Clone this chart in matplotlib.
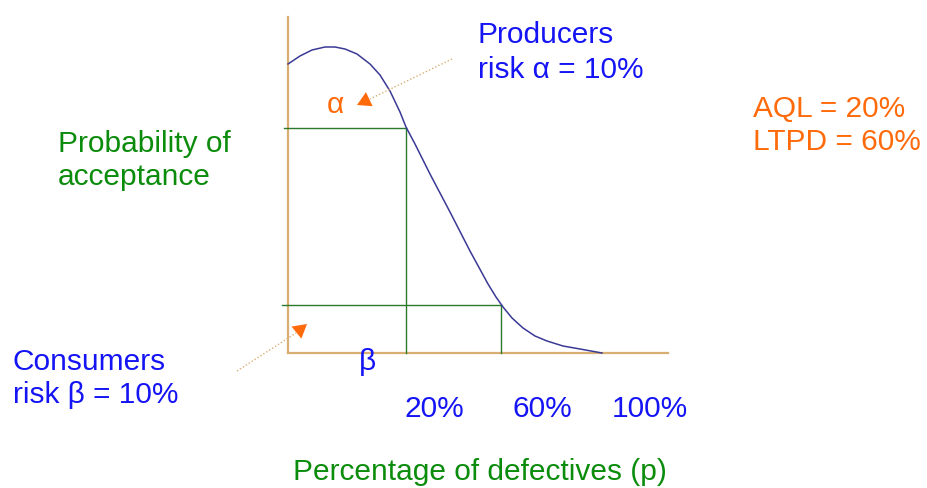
import matplotlib
matplotlib.use("Agg")
from matplotlib import pyplot as plt

plt.rcParams['font.family'] = ['Liberation Sans', 'DejaVu Sans']

# OC curve (pixel units of the 928x489 canvas)
curve_x = [288, 300, 312, 325, 335, 345, 357, 370, 380, 390, 400, 406, 415,
           430, 450, 470, 488, 496, 503, 512, 523, 535, 547, 563, 580, 602]
curve_y = [65, 57, 51, 48, 48, 50, 55, 65, 76, 92, 113, 128, 145,
           175, 213, 252, 285, 298, 308, 319, 329, 337, 342, 347, 350, 354]

origin = (288, 354)
x_end = 668
y_top = 18
aql_x, alpha_y = 406, 129     # producers point
ltpd_x, beta_y = 501, 306     # consumers point

tick_labels = ['20%', '60%', '100%']
tick_x = [405, 512, 612]

blue = '#1414f5'
green = '#0c8c0c'
orange = '#ff6a0a'
tan = '#d9ae73'

fig = plt.figure(figsize=(9.28, 4.89), dpi=100)
ax = fig.add_axes([0, 0, 1, 1])
ax.set_xlim(0, 928)
ax.set_ylim(489, 0)
ax.axis('off')

# axes
ax.plot([origin[0], origin[0]], [y_top, origin[1]], color=tan, lw=1.6)
ax.plot([origin[0], x_end], [origin[1], origin[1]], color=tan, lw=1.6)

# guide lines
ax.plot([origin[0] - 4, aql_x], [alpha_y, alpha_y], color='#2a7a2a', lw=1)
ax.plot([aql_x, aql_x], [alpha_y, origin[1]], color='#2a7a2a', lw=1)
ax.plot([origin[0] - 6, ltpd_x], [beta_y, beta_y], color='#2a7a2a', lw=1)
ax.plot([ltpd_x, ltpd_x], [beta_y, origin[1]], color='#2a7a2a', lw=1)

# curve
ax.plot(curve_x, curve_y, color='#3a3a96', lw=1.1)

# pointer arrows: dotted tan shaft, orange head
head = dict(arrowstyle='-|>,head_length=0.7,head_width=0.4', mutation_scale=14,
            color=orange, lw=0, shrinkA=0, shrinkB=0)
ax.plot([452, 370], [60, 100], color=tan, lw=1, ls=(0, (1, 1.5)))
ax.annotate('', xy=(357, 106), xytext=(376, 97), arrowprops=head)
ax.plot([237, 296], [372, 334], color=tan, lw=1, ls=(0, (1, 1.5)))
ax.annotate('', xy=(307, 325), xytext=(291, 338), arrowprops=head)

fs = 21.5
def txt(x, y, s, c, **kw):
    ax.text(x, y, s, color=c, fontsize=fs, va='baseline', **kw)

txt(478, 43, 'Producers', blue)
txt(478, 78, 'risk α = 10%', blue)
txt(753, 117, 'AQL = 20%', orange)
txt(753, 150, 'LTPD = 60%', orange)
txt(58, 152, 'Probability of', green)
txt(58, 185, 'acceptance', green)
txt(13, 370, 'Consumers', blue)
txt(13, 403, 'risk β = 10%', blue)
txt(327, 113, 'α', orange)
txt(359, 370, 'β', blue)
for lx, lab in zip(tick_x, tick_labels):
    txt(lx, 417, lab, blue)
txt(293, 480, 'Percentage of defectives (p)', green)

plt.savefig('out.png', dpi=100)
plt.close(fig)
